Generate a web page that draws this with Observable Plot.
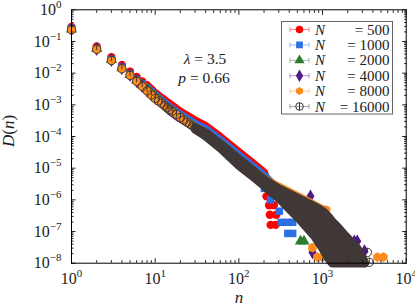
<!DOCTYPE html>
<html><head><meta charset="utf-8">
<script src="https://cdn.jsdelivr.net/npm/d3@7"></script>
<script src="https://cdn.jsdelivr.net/npm/@observablehq/plot@0.6"></script>
<style>body{margin:0;background:#fff}#c{width:415px;height:306px}</style>
</head><body><div id="c"></div>
<script>
// ---------- data ----------
const sizes = [500, 1000, 2000, 4000, 8000, 16000];
const seriesColors = ["#ff0000", "#2b6fe2", "#2e7b32", "#4f1c84", "#ff8a1c", "#3f3836"];
const seriesSymbols = ["circle", "square", "triangle", "diamond", "hexagon", "circleTick"];
const lambdaText = "3.5";
const pText = "0.66";
const xMajor = [1, 10, 100, 1000, 10000];
const yMajor = [1e-8, 1e-7, 1e-6, 1e-5, 1e-4, 1e-3, 1e-2, 1e-1, 1];
const xTickExp = ["0", "1", "2", "3", "4"];
const yTickExp = ["−8", "−7", "−6", "−5", "−4", "−3", "−2", "−1", "0"];

// N = 500
const redN = [1,2,3,4,5,6,7,8,9,10,15,20,30,40,60,100,150,200,214];
const redD = [0.288,0.0692,0.0316,0.0182,0.0112,0.00759,0.0055,0.00407,0.00302,0.00229,1.05e-3,6.0e-4,3.16e-4,2.14e-4,9.5e-5,3.16e-5,1.35e-5,7.2e-6,4.0e-6];
const redTailN = [225,214,230,262,235,280,240,275];
const redTailD = [2.0e-6,1.29e-6,6.8e-7,6.8e-7,3.4e-7,3.4e-7,1.62e-7,1.62e-7];
// N = 1000
const blueN = [1,2,3,4,5,6,7,8,9,10,15,20,30,40,60,100,150,200,250];
const blueD = [0.257,0.0603,0.0269,0.0155,0.00933,0.00631,0.00457,0.00339,0.00251,0.00191,8.3e-4,4.8e-4,2.5e-4,1.7e-4,7.6e-5,2.5e-5,1.07e-5,5.75e-6,3.2e-6];
const blueTailN = [202,239,305,320,380,440,385,440];
const blueTailD = [2.3e-6,1.0e-6,4.4e-7,1.95e-7,1.95e-7,1.95e-7,8.7e-8,8.7e-8];
// N = 2000
const greenN = [1,2,3,4,5,6,7,8,9,10,15,20,30,40,60,100,150,200,300,371];
const greenD = [0.245,0.0589,0.0263,0.0145,0.0089,0.006,0.00427,0.00316,0.00234,0.00178,6.6e-4,3.8e-4,2.0e-4,1.35e-4,6.0e-5,2.0e-5,8.5e-6,4.57e-6,2.4e-6,1.48e-6];
const greenTailN = [371,545,600];
const greenTailD = [1.48e-6,4.9e-8,4.9e-8];
// N = 4000
const purpleN = [1,2,3,4,5,6,7,8,9,10,15,20,30,40,60,100,150,200,300,545];
const purpleD = [0.24,0.0575,0.0257,0.0141,0.0087,0.00562,0.00389,0.00282,0.00209,0.00162,6.45e-4,3.7e-4,1.95e-4,1.32e-4,5.9e-5,1.95e-5,8.3e-6,4.47e-6,2.29e-6,1.05e-6];
const purpleTailN = [545,717,758,2400,2600,3170];
const purpleTailD = [8.3e-7,1.29e-6,2.2e-8,4.9e-8,4.9e-8,2.4e-8];
// N = 8000
const orangeN = [1,2,3,4,5,6,7,8,9,10,15,20,30,40,60,100,150,200,300,545,1000,1113];
const orangeD = [0.234,0.0562,0.0251,0.0138,0.00851,0.0055,0.0038,0.00275,0.00204,0.00158,7.1e-4,3.98e-4,2.0e-4,1.29e-4,5.75e-5,1.9e-5,8.1e-6,4.57e-6,2.57e-6,1.17e-6,5.0e-7,4.8e-7];
const orangeTailN = [1090,1170,758,870,1000,4530,5340];
const orangeTailD = [1.74e-7,1.62e-7,3.1e-8,1.55e-8,1.55e-8,1.55e-8,1.55e-8];
// N = 16000 : separate markers at small n, then a dense band (upper / lower envelope)
const grayN = [1,2,3,4,5,6,7,8,9,10,11,12,13,14,15,16,18,20,22,24,26,28,30];
const grayD = [0.234,0.0562,0.0251,0.0138,0.00851,0.0055,0.0038,0.00275,0.00204,0.00158,0.00132,0.00112,9.5e-4,8.1e-4,7.1e-4,6.3e-4,5.0e-4,3.98e-4,3.31e-4,2.82e-4,2.45e-4,2.14e-4,1.91e-4];
const grayBandN = [30,40,60,100,150,200,300,545,800,1000,1170,1300,1500,1900,2600,3000,3200];
const grayBandHi = [1.95e-4,1.32e-4,5.9e-5,1.95e-5,8.3e-6,4.47e-6,2.29e-6,1.05e-6,6.3e-7,4.5e-7,3.0e-7,2.1e-7,1.45e-7,7.1e-8,2.95e-8,1.5e-8,1.0e-8];
const grayBandLo = [1.66e-4,1.02e-4,4.27e-5,1.2e-5,5.2e-6,2.8e-6,1.12e-6,2.24e-7,7.1e-8,2.95e-8,1.41e-8,1e-8,1e-8,1e-8,1e-8,1e-8,1e-8];
const grayTailN = [3440,3630];
const grayTailD = [2.2e-8,1.07e-8];

// ---------- helpers ----------
const rows = (ns, ds) => ns.map((n, i) => ({n, d: ds[i]}));
const circleTick = {draw(ctx, size) {
  const r = Math.sqrt(size / Math.PI);
  ctx.moveTo(r, 0); ctx.arc(0, 0, r, 0, 2 * Math.PI);
  ctx.moveTo(0, -r); ctx.lineTo(0, r * 0.15);
}};
const symFor = s => s === "circleTick" ? circleTick : s;
const R = 4.2;

function seriesMarks(i, ns, ds, tn, td) {
  const c = seriesColors[i], sym = symFor(seriesSymbols[i]);
  const all = rows(ns, ds);
  return [
    Plot.line(all.filter(r => r.n >= 8), {x: "n", y: "d", stroke: c, strokeWidth: 2 * R, strokeLinecap: "round", strokeLinejoin: "round"}),
    Plot.dot(all.filter(r => r.n <= 10), {x: "n", y: "d", r: R, fill: c, symbol: sym}),
    Plot.dot(rows(tn, td), {x: "n", y: "d", r: R, fill: c, symbol: sym})
  ];
}

const gc = seriesColors[5];
const band = grayBandN.map((n, i) => ({n, hi: grayBandHi[i], lo: grayBandLo[i]}));
const bandLineStyle = {stroke: gc, strokeWidth: 2 * R, strokeLinecap: "round", strokeLinejoin: "round"};

const xMinor = [], yMinor = [];
for (const m of xMajor.slice(0, -1)) for (let k = 2; k < 10; k++) xMinor.push(m * k);
for (const m of yMajor.slice(0, -1)) for (let k = 2; k < 10; k++) yMinor.push(m * k);

const noLab = {label: null, tickFormat: () => ""};
const chart = Plot.plot({
  width: 415, height: 306,
  marginLeft: 71, marginRight: 9.3, marginTop: 9.3, marginBottom: 43.3,
  x: {type: "log", domain: [1, 1e4], label: null},
  y: {type: "log", domain: [1e-8, 1], label: null},
  style: {fontFamily: "'Liberation Serif', serif", background: "white", overflow: "visible", color: "#222"},
  marks: [
    ...seriesMarks(0, redN, redD, redTailN, redTailD),
    ...seriesMarks(1, blueN, blueD, blueTailN, blueTailD),
    ...seriesMarks(2, greenN, greenD, greenTailN, greenTailD),
    ...seriesMarks(3, purpleN, purpleD, purpleTailN, purpleTailD),
    ...seriesMarks(4, orangeN, orangeD, orangeTailN, orangeTailD),
    Plot.areaY(band, {x: "n", y1: "lo", y2: "hi", fill: gc}),
    Plot.line(band, {x: "n", y: "hi", ...bandLineStyle}),
    Plot.line(band, {x: "n", y: "lo", ...bandLineStyle}),
    Plot.dot(rows(grayN, grayD), {x: "n", y: "d", r: R, stroke: gc, strokeWidth: 1, fill: "none", symbol: circleTick}),
    Plot.dot(rows(grayTailN, grayTailD), {x: "n", y: "d", r: R, stroke: gc, strokeWidth: 1, fill: "none", symbol: circleTick}),
    Plot.axisX(xMajor, {anchor: "bottom", tickSize: -4.5, ...noLab}),
    Plot.axisX(xMinor, {anchor: "bottom", tickSize: -2.5, ...noLab}),
    Plot.axisX(xMajor, {anchor: "top", tickSize: -4.5, ...noLab}),
    Plot.axisX(xMinor, {anchor: "top", tickSize: -2.5, ...noLab}),
    Plot.axisY(yMajor, {anchor: "left", tickSize: -4.5, ...noLab}),
    Plot.axisY(yMinor, {anchor: "left", tickSize: -2.5, ...noLab}),
    Plot.axisY(yMajor, {anchor: "right", tickSize: -4.5, ...noLab}),
    Plot.axisY(yMinor, {anchor: "right", tickSize: -2.5, ...noLab}),
    Plot.axisX(xMajor, {anchor: "bottom", tickSize: 0, tickPadding: 9, fontSize: 16, label: null,
      tickFormat: d => "10^" + xTickExp[xMajor.indexOf(d)]}),
    Plot.axisY(yMajor, {anchor: "left", tickSize: 0, tickPadding: 10, fontSize: 16, label: null,
      tickFormat: d => "10^" + yTickExp[yMajor.indexOf(d)]}),
    Plot.frame({stroke: "#000", strokeWidth: 1})
  ]
});

// superscripts in tick labels
d3.select(chart).selectAll("text").each(function() {
  const t = this.textContent;
  if (t.startsWith("10^")) {
    const e = t.slice(3);
    const s = d3.select(this); s.text(null);
    s.append("tspan").text("10");
    s.append("tspan").attr("dy", "-7").attr("font-size", 11).text(e);
  }
});

const svg = d3.select(chart);
const ink = "#222";
// axis titles
const yl = svg.append("text").attr("transform", "translate(13.5,131) rotate(-90)").attr("text-anchor", "middle")
  .attr("font-size", 17).attr("fill", ink);
yl.append("tspan").attr("font-style", "italic").text("D");
yl.append("tspan").text("(");
yl.append("tspan").attr("font-style", "italic").text("n");
yl.append("tspan").text(")");
svg.append("text").attr("x", 239).attr("y", 303).attr("text-anchor", "middle").attr("font-size", 17)
  .attr("font-style", "italic").attr("fill", ink).text("n");

// annotation
const a1 = svg.append("text").attr("x", 205).attr("y", 64).attr("font-size", 15.5).attr("fill", ink);
a1.append("tspan").attr("font-style", "italic").text("λ");
a1.append("tspan").text(" = " + lambdaText);
const a2 = svg.append("text").attr("x", 204).attr("y", 83).attr("font-size", 15.5).attr("fill", ink);
a2.append("tspan").attr("font-style", "italic").text("p");
a2.append("tspan").text(" = " + pText);

// legend
const lg = svg.append("g");
lg.append("rect").attr("x", 281.5).attr("y", 21.5).attr("width", 111).attr("height", 92.5)
  .attr("fill", "white").attr("stroke", "#666").attr("stroke-width", 1);
sizes.forEach((N, i) => {
  const y = 29.5 + i * 15.4, c = seriesColors[i];
  const g = lg.append("g");
  g.append("path").attr("d", `M290,${y}H309M290,${y - 2.5}V${y + 2.5}M309,${y - 2.5}V${y + 2.5}`)
    .attr("stroke", c).attr("stroke-opacity", 0.45).attr("stroke-width", 1).attr("fill", "none");
  const sname = seriesSymbols[i];
  const st = {circle: d3.symbolCircle, square: d3.symbolSquare, triangle: d3.symbolTriangle, diamond: d3.symbolDiamond, hexagon: null, circleTick: circleTick}[sname];
  let pathD;
  const r = 3.8;
  if (sname === "hexagon") {
    const pts = d3.range(6).map(k => { const a = Math.PI / 6 + k * Math.PI / 3; return [r * 1.05 * Math.cos(a), r * 1.05 * Math.sin(a)]; });
    pathD = "M" + pts.join("L") + "Z";
  } else {
    pathD = d3.symbol(st, r * r * Math.PI)();
  }
  if (sname === "circleTick") {
    g.append("path").attr("d", `M${299.5},${y - r}V${y + r}`).attr("stroke", c).attr("stroke-width", 1);
    g.append("path").attr("d", pathD).attr("transform", `translate(299.5,${y})`).attr("fill", "none").attr("stroke", c).attr("stroke-width", 1);
  } else {
    g.append("path").attr("d", pathD).attr("transform", `translate(299.5,${y})`).attr("fill", c);
  }
  g.append("text").attr("x", 320).attr("y", y + 5).attr("font-size", 15).attr("font-style", "italic").attr("fill", ink).text("N");
  g.append("text").attr("x", 389.5).attr("y", y + 5).attr("font-size", 15).attr("text-anchor", "end").attr("fill", ink).text("= " + N);
});

document.getElementById("c").appendChild(chart);
</script></body></html>
